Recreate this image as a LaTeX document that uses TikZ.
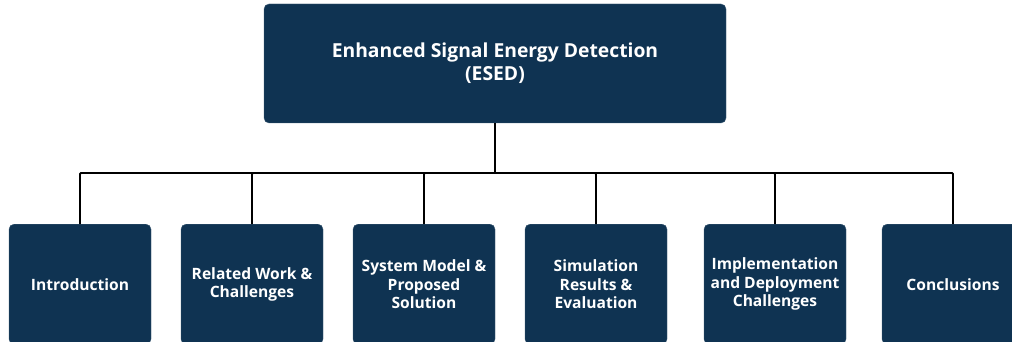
\documentclass[tikz,border=0pt]{standalone}
\usepackage{fontspec}
\setmainfont{Open Sans}
\usepackage{xcolor}
\usepackage{tikz}
\usetikzlibrary{positioning}

\definecolor{navy}{HTML}{0F3352}

\begin{document}
\begin{tikzpicture}[x=1pt, y=-1pt,
    topbox/.style={draw=navy!80, fill=navy, rounded corners=5pt, text=white,
        minimum width=462pt, minimum height=119pt, align=center,
        font=\bfseries\fontsize{19.3}{23}\selectfont},
    partbox/.style={draw=navy!80, fill=navy, rounded corners=5pt, text=white,
        minimum width=142pt, minimum height=120pt, align=center, anchor=north,
        inner xsep=2pt, font=\bfseries\fontsize{15.6}{18.5}\selectfont},
    link/.style={line width=1.8pt, black}]

    % =================================================================
    % KHUNG TRANG
    % =================================================================
    \useasboundingbox (0,0) rectangle (1012,342);
    \clip (0,0) rectangle (1012,342);

    % Hộp tiêu đề
    \node[topbox] (esed) at (495,63.5)
        {Enhanced Signal Energy Detection\\(ESED)};

    % Sáu hộp chương
    \node[partbox] (intro)   at (80,224)  {Introduction};
    \node[partbox] (related) at (252,224) {Related Work \&\\Challenges};
    \node[partbox] (system)  at (424,224) {System Model \&\\Proposed\\Solution};
    \node[partbox] (simul)   at (596,224) {Simulation\\Results \&\\Evaluation};
    \node[partbox] (implem)  at (775,224) {Implementation\\and Deployment\\Challenges};
    \node[partbox] (concl)   at (953,224) {Conclusions};

    % Thanh ngang nối
    \coordinate (bar) at (esed.south |- 0,173);
    \draw[link] (esed.south) -- (bar);
    \foreach \p in {intro, related, system, simul, implem, concl}
        \draw[link, rounded corners=1pt] (bar) -| (\p.north);

\end{tikzpicture}
\end{document}
